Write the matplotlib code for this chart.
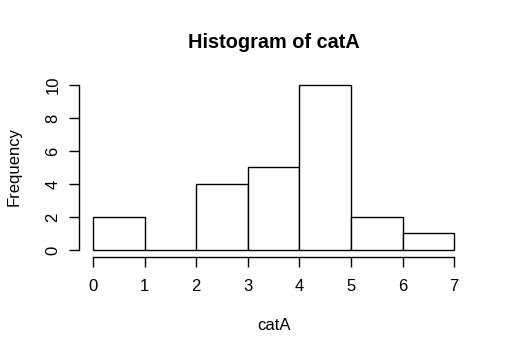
import matplotlib
matplotlib.use("Agg")
import matplotlib.pyplot as plt
import numpy as np

bin_edges = [0, 1, 2, 3, 4, 5, 6, 7]
counts = [2, 0, 4, 5, 10, 2, 1]
x_ticks = [0, 1, 2, 3, 4, 5, 6, 7]
y_ticks = [0, 2, 4, 6, 8, 10]

plt.rcParams['font.family'] = ['Liberation Sans', 'DejaVu Sans']

fig = plt.figure(figsize=(5.09, 3.55), dpi=100)
ax = fig.add_axes([0.1544, 0.2772, 0.9206 - 0.1544, 0.7792 - 0.2772])

edges = np.array(bin_edges, dtype=float)
ax.bar(edges[:-1], counts, width=np.diff(edges), align='edge',
       facecolor='white', edgecolor='black', linewidth=1.0)

ax.set_xlim(-0.28, 7.28)
ax.set_ylim(-0.4, 10.4)

for s in ['top', 'right']:
    ax.spines[s].set_visible(False)
ax.spines['left'].set_bounds(0, 10)
ax.spines['bottom'].set_bounds(0, 7)
ax.spines['left'].set_linewidth(1.0)
ax.spines['bottom'].set_linewidth(1.0)

ax.set_xticks(x_ticks)
ax.set_yticks(y_ticks)
ax.set_yticklabels([str(v) for v in y_ticks], rotation=90, va='center')
ax.tick_params(axis='both', direction='out', length=7.2, width=1.0,
               labelsize=12)
ax.tick_params(axis='x', pad=9)
ax.tick_params(axis='y', pad=6)

fig.text(0.5375, 1 - 42 / 355, "Histogram of catA", ha='center', va='center',
         fontsize=14.3, fontweight='bold')
fig.text(0.5375, 1 - 326 / 355, "catA", ha='center', va='center', fontsize=12)
fig.text(14 / 509, 1 - 167 / 355, "Frequency", ha='center', va='center',
         fontsize=12, rotation=90)

fig.savefig("out.png", dpi=100)
